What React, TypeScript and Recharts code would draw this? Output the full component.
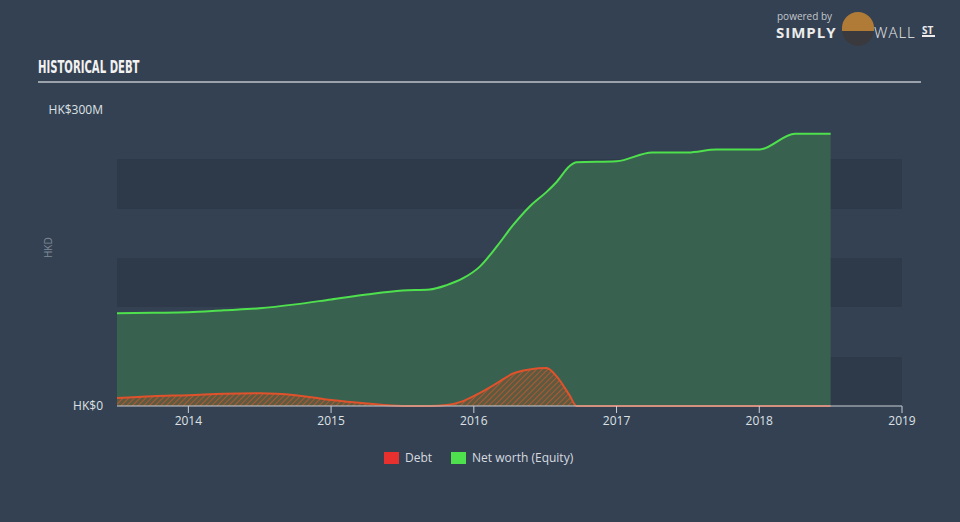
import React from "react";
import {
  AreaChart,
  Area,
  XAxis,
  YAxis,
  CartesianGrid,
} from "recharts";

// time axis in decimal years
const dates = [
  2013.5, 2013.75, 2014, 2014.25, 2014.5, 2014.75, 2015, 2015.25, 2015.5, 2015.69,
  2015.81, 2015.925, 2016.04, 2016.16, 2016.276, 2016.39, 2016.51, 2016.58, 2016.67,
  2016.72, 2017, 2017.25, 2017.5, 2017.7, 2018, 2018.25, 2018.5,
];

// HK$ millions
const debt = [
  8, 10, 11, 12.5, 13, 11, 6, 2.5, 0, 0,
  1, 5, 13, 23, 33, 37, 38.5, 30, 11,
  0, 0, 0, 0, 0, 0, 0, 0,
];

const equity = [
  94, 94.5, 95, 97, 99, 103, 108, 113, 117, 118,
  122.5, 129.5, 141, 161.5, 183.5, 202, 217, 227, 243,
  247, 248, 257, 257, 260, 260, 276, 276,
];

const xTicks = [2014, 2015, 2016, 2017, 2018, 2019];
const yTicks = [0, 300];
const bandEdges = [0, 50, 100, 150, 200, 250, 300];
const Y_MAX = 300;

const legendItems = [
  { name: "Debt", color: "#e8302e" },
  { name: "Net worth (Equity)", color: "#4fe04d" },
];

const data = dates.map((d, i) => ({ date: d, debt: debt[i], equity: equity[i] }));

const FONT = "'Open Sans', 'DejaVu Sans', sans-serif";
const BG = "#344152";

const fmtY = (v: number) => (v === 0 ? "HK$0" : `HK$${v}M`);

// band edges -> pixel rows, same linear mapping as the y axis
const bandRows = ({ offset }: any) =>
  bandEdges.map((v) => offset.top + offset.height * (1 - v / Y_MAX));

export default function App() {
  return (
    <div
      style={{
        position: "relative",
        width: 960,
        height: 522,
        background: BG,
        fontFamily: FONT,
        overflow: "hidden",
      }}
    >
      <style>{`body{margin:0}`}</style>

      {/* title */}
      <div
        style={{
          position: "absolute",
          left: 38,
          top: 57,
          color: "#f2f2f2",
          fontFamily: "'DejaVu Sans Condensed', sans-serif",
          fontWeight: 700,
          fontSize: 17,
          lineHeight: "20px",
          whiteSpace: "nowrap",
          transform: "scaleX(0.66)",
          transformOrigin: "left center",
        }}
      >
        HISTORICAL DEBT
      </div>
      <div
        style={{
          position: "absolute",
          left: 38,
          top: 81,
          width: 883,
          height: 2,
          background: "#9ba2ac",
        }}
      />

      {/* logo */}
      <div
        style={{
          position: "absolute",
          left: 777,
          top: 11,
          color: "#c3c7cd",
          fontSize: 10,
          lineHeight: "11px",
        }}
      >
        powered by
      </div>
      <div
        style={{
          position: "absolute",
          left: 776,
          top: 24,
          color: "#ececec",
          fontSize: 15,
          lineHeight: "16px",
          fontWeight: 700,
          letterSpacing: 1,
        }}
      >
        SIMPLY
      </div>
      <div
        style={{
          position: "absolute",
          left: 842,
          top: 12,
          width: 32,
          height: 34,
          borderRadius: 16,
          background: "linear-gradient(#b07b36 0 55%, #3a3a3e 55% 100%)",
        }}
      />
      <div
        style={{
          position: "absolute",
          left: 874,
          top: 24,
          color: "#ececec",
          fontSize: 15,
          lineHeight: "16px",
          fontWeight: 300,
          letterSpacing: 1,
        }}
      >
        WALL
      </div>
      <div
        style={{
          position: "absolute",
          left: 922,
          top: 25,
          color: "#ececec",
          fontSize: 10,
          fontWeight: 700,
          borderBottom: "2px solid #ececec",
          lineHeight: "10px",
          paddingRight: 2,
        }}
      >
        ST
      </div>

      <div style={{ position: "absolute", left: 0, top: 0 }}>
        <AreaChart
          width={960}
          height={522}
          data={data}
          margin={{ top: 110, right: 58, bottom: 86, left: 0 }}
        >
          <defs>
            <pattern
              id="debtHatch"
              width="4"
              height="4"
              patternUnits="userSpaceOnUse"
              patternTransform="rotate(45)"
            >
              <rect width="4" height="4" fill="#5e5a40" />
              <line x1="0" y1="0" x2="0" y2="4" stroke="#c2582f" strokeWidth="1.6" />
            </pattern>
          </defs>
          <CartesianGrid
            vertical={false}
            stroke="none"
            horizontalFill={[BG, "#2e3a4a"]}
            horizontalCoordinatesGenerator={bandRows}
          />
          <XAxis
            dataKey="date"
            type="number"
            domain={[2013.5, 2019]}
            ticks={xTicks}
            allowDataOverflow
            height={30}
            stroke="#c9ced5"
            tickSize={7}
            tickMargin={3}
            tick={{ fill: "#dde1e6", fontSize: 12, fontFamily: FONT }}
          />
          <YAxis
            domain={[0, Y_MAX]}
            ticks={yTicks}
            width={117}
            axisLine={false}
            tickLine={false}
            tickSize={0}
            tickMargin={14}
            tickFormatter={fmtY}
            tick={{ fill: "#dde1e6", fontSize: 12, fontFamily: FONT }}
            label={{
              value: "HKD",
              angle: -90,
              position: "insideLeft",
              offset: 48,
              style: { fill: "#7f8997", fontSize: 10, fontFamily: FONT },
            }}
          />
          <Area
            type="monotone"
            dataKey="equity"
            stroke="#4fe04d"
            strokeWidth={2}
            fill="#39614f"
            fillOpacity={1}
            isAnimationActive={false}
            dot={false}
            activeDot={false}
          />
          <Area
            type="monotone"
            dataKey="debt"
            stroke="#e0522b"
            strokeWidth={2}
            fill="url(#debtHatch)"
            fillOpacity={1}
            isAnimationActive={false}
            dot={false}
            activeDot={false}
          />
        </AreaChart>
      </div>

      {/* legend */}
      <div
        style={{
          position: "absolute",
          left: 384,
          top: 449,
          display: "flex",
          alignItems: "center",
          color: "#d7dbe0",
          fontSize: 12,
        }}
      >
        {legendItems.map((it) => (
          <div key={it.name} style={{ display: "flex", alignItems: "center", marginRight: 19 }}>
            <span
              style={{
                display: "inline-block",
                width: 15,
                height: 12,
                background: it.color,
                marginRight: 6,
              }}
            />
            <span>{it.name}</span>
          </div>
        ))}
      </div>
    </div>
  );
}
